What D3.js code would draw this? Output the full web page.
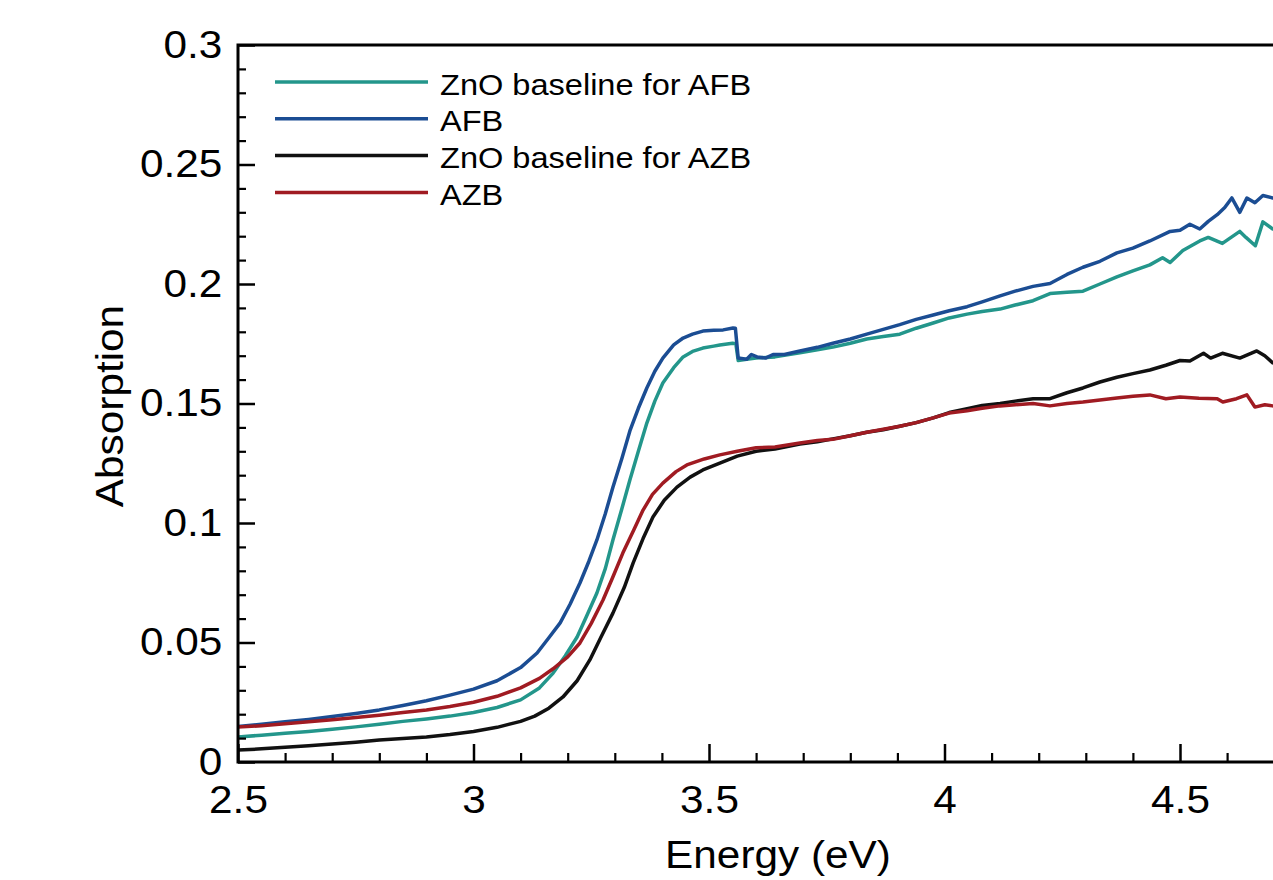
<!DOCTYPE html>
<html>
<head>
<meta charset="utf-8">
<script src="https://cdn.jsdelivr.net/npm/d3@7"></script>
<style>
  body { margin: 0; background: #fff; }
  svg { display: block; font-family: "Liberation Sans", Arial, Helvetica, sans-serif; }
</style>
</head>
<body>
<div id="chart"></div>
<script>
// absorption spectra
var afbEnergy = [2.50, 2.55, 2.60, 2.65, 2.70, 2.75, 2.80, 2.85, 2.90, 2.95, 3.00, 3.05, 3.10, 3.135, 3.16, 3.184, 3.205, 3.226, 3.245, 3.262, 3.28, 3.296, 3.315, 3.332, 3.35, 3.368, 3.385, 3.402, 3.425, 3.445, 3.465, 3.487, 3.51, 3.53, 3.551, 3.556, 3.562, 3.58, 3.59, 3.602, 3.62, 3.636, 3.66, 3.693, 3.73, 3.763, 3.80, 3.835, 3.87, 3.905, 3.94, 3.976, 4.01, 4.048, 4.08, 4.118, 4.15, 4.188, 4.224, 4.26, 4.294, 4.33, 4.366, 4.40, 4.436, 4.479, 4.50, 4.521, 4.542, 4.56, 4.579, 4.595, 4.61, 4.627, 4.642, 4.659, 4.676, 4.697, 4.72];
var afbValues = [0.0148, 0.0158, 0.0168, 0.0178, 0.0190, 0.0203, 0.0218, 0.0236, 0.0256, 0.0280, 0.0305, 0.0340, 0.0395, 0.0456, 0.052, 0.0582, 0.066, 0.0749, 0.084, 0.0929, 0.104, 0.115, 0.127, 0.1385, 0.148, 0.1565, 0.1635, 0.169, 0.1745, 0.1774, 0.179, 0.1803, 0.1806, 0.1808, 0.1816, 0.1815, 0.169, 0.1685, 0.1705, 0.1695, 0.169, 0.1705, 0.1705, 0.172, 0.1735, 0.1752, 0.177, 0.179, 0.181, 0.183, 0.1852, 0.187, 0.1888, 0.1905, 0.1925, 0.195, 0.197, 0.199, 0.2002, 0.204, 0.207, 0.2095, 0.213, 0.215, 0.218, 0.222, 0.2225, 0.225, 0.223, 0.2262, 0.229, 0.232, 0.236, 0.230, 0.236, 0.234, 0.237, 0.236, 0.2365];

var znoAfbEnergy = [2.50, 2.55, 2.60, 2.65, 2.70, 2.75, 2.80, 2.85, 2.90, 2.95, 3.00, 3.05, 3.10, 3.14, 3.169, 3.195, 3.22, 3.24, 3.262, 3.28, 3.296, 3.315, 3.332, 3.35, 3.368, 3.385, 3.402, 3.425, 3.445, 3.465, 3.487, 3.51, 3.523, 3.55, 3.557, 3.562, 3.58, 3.60, 3.64, 3.693, 3.73, 3.763, 3.80, 3.835, 3.87, 3.905, 3.94, 3.976, 4.01, 4.048, 4.08, 4.118, 4.15, 4.188, 4.224, 4.26, 4.294, 4.33, 4.366, 4.40, 4.436, 4.463, 4.479, 4.506, 4.542, 4.56, 4.59, 4.627, 4.64, 4.66, 4.676, 4.697, 4.72];
var znoAfbValues = [0.0105, 0.0112, 0.0120, 0.0128, 0.0137, 0.0147, 0.0158, 0.0170, 0.0180, 0.0192, 0.0207, 0.0228, 0.0260, 0.031, 0.0372, 0.0445, 0.0523, 0.061, 0.0707, 0.081, 0.0929, 0.106, 0.118, 0.130, 0.1418, 0.151, 0.1586, 0.165, 0.1695, 0.1718, 0.1732, 0.174, 0.1745, 0.1752, 0.175, 0.168, 0.1685, 0.169, 0.1695, 0.1712, 0.1725, 0.1736, 0.1752, 0.177, 0.178, 0.179, 0.1815, 0.1837, 0.1858, 0.1874, 0.1885, 0.1895, 0.1912, 0.193, 0.196, 0.1965, 0.197, 0.200, 0.203, 0.2055, 0.208, 0.211, 0.209, 0.214, 0.218, 0.2195, 0.217, 0.222, 0.2195, 0.216, 0.226, 0.223, 0.224];

var znoAzbEnergy = [2.50, 2.55, 2.60, 2.65, 2.70, 2.75, 2.80, 2.85, 2.90, 2.95, 3.00, 3.05, 3.10, 3.13, 3.16, 3.19, 3.22, 3.247, 3.27, 3.296, 3.32, 3.339, 3.36, 3.381, 3.405, 3.432, 3.46, 3.487, 3.523, 3.56, 3.60, 3.64, 3.693, 3.73, 3.763, 3.80, 3.835, 3.87, 3.905, 3.94, 3.976, 4.01, 4.048, 4.08, 4.118, 4.15, 4.188, 4.224, 4.26, 4.294, 4.33, 4.366, 4.40, 4.436, 4.47, 4.50, 4.521, 4.55, 4.565, 4.59, 4.627, 4.663, 4.68, 4.697, 4.72];
var znoAzbValues = [0.0050, 0.0055, 0.0062, 0.0068, 0.0075, 0.0083, 0.0092, 0.0098, 0.0105, 0.0115, 0.0128, 0.0145, 0.0170, 0.0192, 0.0225, 0.0272, 0.0340, 0.0427, 0.0520, 0.0623, 0.0730, 0.0833, 0.0935, 0.1025, 0.1095, 0.1150, 0.1192, 0.1222, 0.1251, 0.1280, 0.1300, 0.1310, 0.1330, 0.1340, 0.1352, 0.1365, 0.1380, 0.1390, 0.1405, 0.1420, 0.1440, 0.1462, 0.1478, 0.1492, 0.1500, 0.1510, 0.1520, 0.1520, 0.1545, 0.1565, 0.1590, 0.1610, 0.1625, 0.1640, 0.1660, 0.1680, 0.1678, 0.1710, 0.1690, 0.1710, 0.1690, 0.1720, 0.1700, 0.1670, 0.1660];

var azbEnergy = [2.50, 2.55, 2.60, 2.65, 2.70, 2.75, 2.80, 2.85, 2.90, 2.95, 3.00, 3.05, 3.10, 3.14, 3.169, 3.20, 3.226, 3.25, 3.275, 3.295, 3.317, 3.34, 3.36, 3.38, 3.402, 3.43, 3.453, 3.49, 3.523, 3.56, 3.60, 3.64, 3.693, 3.73, 3.763, 3.80, 3.835, 3.87, 3.905, 3.94, 3.976, 4.01, 4.048, 4.08, 4.118, 4.15, 4.188, 4.224, 4.26, 4.294, 4.33, 4.366, 4.40, 4.436, 4.47, 4.50, 4.54, 4.579, 4.591, 4.62, 4.642, 4.659, 4.68, 4.697, 4.72];
var azbValues = [0.0146, 0.0152, 0.0160, 0.0168, 0.0177, 0.0186, 0.0196, 0.0207, 0.0218, 0.0232, 0.0250, 0.0275, 0.0310, 0.0350, 0.0390, 0.0440, 0.0498, 0.0580, 0.0678, 0.0770, 0.0874, 0.0970, 0.1054, 0.1120, 0.1167, 0.1215, 0.1243, 0.1268, 0.1285, 0.1300, 0.1315, 0.1318, 0.1335, 0.1345, 0.1350, 0.1365, 0.1380, 0.1392, 0.1405, 0.1420, 0.1440, 0.1460, 0.1470, 0.1480, 0.1490, 0.1495, 0.1500, 0.1490, 0.1500, 0.1506, 0.1515, 0.1523, 0.1530, 0.1536, 0.1520, 0.1527, 0.1522, 0.1520, 0.1506, 0.1520, 0.1536, 0.1485, 0.1495, 0.1490, 0.1488];

var seriesNames = ["ZnO baseline for AFB", "AFB", "ZnO baseline for AZB", "AZB"];
var seriesColors = ["#23968b", "#1b4d93", "#111111", "#a01b22"];
var xTicks = [2.5, 3, 3.5, 4, 4.5];
var yTicks = [0, 0.05, 0.1, 0.15, 0.2, 0.25, 0.3];

var svgWidth = 1273;
var svgHeight = 880;
var stretch = 1.085; // the figure's lettering is a bit wide

var svg = d3.select("#chart")
  .append("svg")
  .attr("width", svgWidth)
  .attr("height", svgHeight);

var x = d3.scaleLinear().domain([2.5, 5]).range([238, 1415.5]);
var y = d3.scaleLinear().domain([0, 0.3]).range([762, 45]);

// clip to the plot box
svg.append("clipPath").attr("id", "plotclip")
  .append("rect")
  .attr("x", 238).attr("y", 45)
  .attr("width", 1415.5 - 238).attr("height", 762 - 45);

// series lines
var seriesData = [
  d3.zip(znoAfbEnergy, znoAfbValues),
  d3.zip(afbEnergy, afbValues),
  d3.zip(znoAzbEnergy, znoAzbValues),
  d3.zip(azbEnergy, azbValues)
];

var line = d3.line()
  .x(d => x(d[0]))
  .y(d => y(d[1]));

svg.append("g")
  .attr("clip-path", "url(#plotclip)")
  .selectAll("path")
  .data(seriesData)
  .enter()
  .append("path")
  .attr("d", line)
  .attr("fill", "none")
  .attr("stroke", (d, i) => seriesColors[i])
  .attr("stroke-width", 3.5)
  .attr("stroke-linejoin", "round");

// minor ticks
var xMinor = d3.range(25, 48).map(v => v / 10).filter(v => Math.abs(v * 2 - Math.round(v * 2)) > 1e-6);
var yMinor = d3.range(0, 31).map(v => v / 100).filter(v => Math.abs(v * 20 - Math.round(v * 20)) > 1e-6);

svg.append("g")
  .attr("transform", "translate(0,762)")
  .call(d3.axisBottom(x).tickValues(xMinor).tickSizeInner(-9).tickSizeOuter(0).tickFormat(""))
  .call(g => g.select(".domain").remove())
  .selectAll("line").attr("stroke-width", 2.2);

svg.append("g")
  .attr("transform", "translate(238,0)")
  .call(d3.axisLeft(y).tickValues(yMinor).tickSizeInner(-8).tickSizeOuter(0).tickFormat(""))
  .call(g => g.select(".domain").remove())
  .selectAll("line").attr("stroke-width", 2.2);

// major axes
var xAxis = svg.append("g")
  .attr("transform", "translate(0,762)")
  .call(d3.axisBottom(x).tickValues(xTicks).tickSizeInner(-18).tickSizeOuter(0).tickPadding(23).tickFormat(d3.format("")));

var yAxis = svg.append("g")
  .attr("transform", "translate(238,0)")
  .call(d3.axisLeft(y).tickValues(yTicks).tickSizeInner(-17).tickSizeOuter(0).tickPadding(14.5).tickFormat(d3.format("")));

[xAxis, yAxis].forEach(function(ax) {
  ax.select(".domain").remove();
  ax.selectAll("line").attr("stroke", "#000").attr("stroke-width", 2.5);
  ax.selectAll("text")
    .attr("font-size", "39px")
    .attr("font-family", "Liberation Sans, Arial, sans-serif")
    .attr("fill", "#000")
    .attr("transform", "scale(" + stretch + ",1)");
});

// frame: left, bottom and top lines (right side is cut off)
svg.append("path")
  .attr("d", "M" + svgWidth + ",45H238V762H" + svgWidth)
  .attr("fill", "none")
  .attr("stroke", "#000")
  .attr("stroke-width", 3);

// axis titles
svg.append("text")
  .attr("transform", "translate(778,868) scale(" + stretch + ",1)")
  .attr("text-anchor", "middle")
  .attr("font-size", "39px")
  .attr("fill", "#000")
  .text("Energy (eV)");

svg.append("text")
  .attr("transform", "translate(123,406) rotate(-90) scale(" + stretch + ",1)")
  .attr("text-anchor", "middle")
  .attr("font-size", "39px")
  .attr("fill", "#000")
  .text("Absorption");

// legend
var legend = svg.append("g");
var legendRows = legend.selectAll("g")
  .data(seriesNames)
  .enter()
  .append("g")
  .attr("transform", (d, i) => "translate(0," + (82 + i * 36.8) + ")");

legendRows.append("line")
  .attr("x1", 275).attr("x2", 428)
  .attr("y1", 0).attr("y2", 0)
  .attr("stroke", (d, i) => seriesColors[i])
  .attr("stroke-width", 3.5);

legendRows.append("text")
  .attr("transform", "translate(440,0) scale(" + stretch + ",1)")
  .attr("dy", "0.42em")
  .attr("font-size", "30px")
  .attr("fill", "#000")
  .text(d => d);
</script>
</body>
</html>
